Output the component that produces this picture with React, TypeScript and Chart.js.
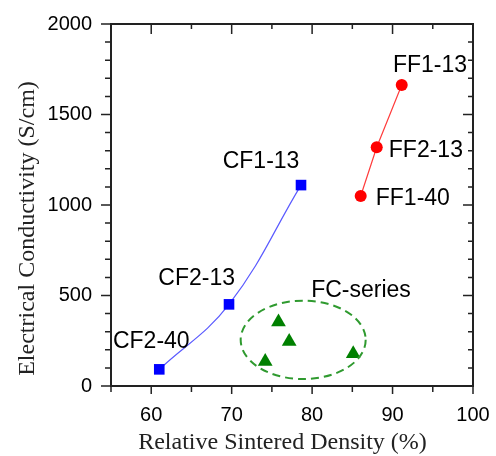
import React, { useEffect, useRef } from 'react';
import { Chart, registerables } from 'chart.js';

Chart.register(...registerables);

// ---- Data ----
const CF_X = [61.0, 69.67, 78.62];
const CF_Y = [92, 451, 1110];
const FF_X = [86.04, 88.03, 91.14];
const FF_Y = [1050, 1319, 1663];
const FC_X = [75.82, 77.15, 74.17, 85.11];
const FC_Y = [354, 246, 136, 178];

const X_TICKS = [60, 70, 80, 90, 100];
const X_MINOR = [55, 65, 75, 85, 95];
const Y_TICKS = [0, 500, 1000, 1500, 2000];
const Y_MINOR = [100, 200, 300, 400, 600, 700, 800, 900, 1100, 1200, 1300, 1400, 1600, 1700, 1800, 1900];

const LABEL_TEXT = ['CF1-13', 'CF2-13', 'CF2-40', 'FF1-13', 'FF2-13', 'FF1-40', 'FC-series'];
const LABEL_X = [73.65, 65.65, 60.01, 94.66, 94.14, 92.52, 86.08];
const LABEL_Y = [1249, 604, 254, 1783, 1313, 1046, 539];

const FC_ELLIPSE_CENTER = [78.89, 255];
const FC_ELLIPSE_RADII = [7.77, 216.6];

const X_TITLE = 'Relative Sintered Density (%)';
const Y_TITLE = 'Electrical Conductivity (S/cm)';

const SANS = '"Liberation Sans", Arial, sans-serif';
const SERIF = '"Liberation Serif", "Times New Roman", serif';

const decorPlugin = {
  id: 'decor',
  afterDatasetsDraw(chart: any) {
    const ctx = chart.ctx;
    const xs = chart.scales.x;
    const ys = chart.scales.y;
    const { left, right, top, bottom } = chart.chartArea;
    ctx.save();

    // FC-series dashed ellipse
    const cx = xs.getPixelForValue(FC_ELLIPSE_CENTER[0]);
    const cy = ys.getPixelForValue(FC_ELLIPSE_CENTER[1]);
    const rx = Math.abs(xs.getPixelForValue(FC_ELLIPSE_CENTER[0] + FC_ELLIPSE_RADII[0]) - cx);
    const ry = Math.abs(ys.getPixelForValue(FC_ELLIPSE_CENTER[1] + FC_ELLIPSE_RADII[1]) - cy);
    ctx.beginPath();
    ctx.setLineDash([8, 5]);
    ctx.lineWidth = 2;
    ctx.strokeStyle = '#2f9a2f';
    ctx.ellipse(cx, cy, rx, ry, 0, 0, Math.PI * 2);
    ctx.stroke();
    ctx.setLineDash([]);

    // Point labels
    ctx.fillStyle = '#000';
    ctx.font = `23px ${SANS}`;
    ctx.textAlign = 'center';
    ctx.textBaseline = 'alphabetic';
    LABEL_TEXT.forEach((t, i) => {
      const px = xs.getPixelForValue(LABEL_X[i]);
      const py = ys.getPixelForValue(LABEL_Y[i]);
      ctx.fillText(t, px, py + 0.36 * 23);
    });

    // Frame
    ctx.strokeStyle = '#222';
    ctx.lineWidth = 2;
    ctx.strokeRect(left, top, right - left, bottom - top);

    // Ticks
    ctx.lineWidth = 1.5;
    ctx.beginPath();
    X_TICKS.forEach((v) => {
      const p = xs.getPixelForValue(v);
      ctx.moveTo(p, bottom); ctx.lineTo(p, bottom + 8);
      ctx.moveTo(p, top); ctx.lineTo(p, top + 10);
    });
    X_MINOR.forEach((v) => {
      const p = xs.getPixelForValue(v);
      ctx.moveTo(p, bottom); ctx.lineTo(p, bottom + 6);
      ctx.moveTo(p, top); ctx.lineTo(p, top + 5);
    });
    Y_TICKS.forEach((v) => {
      const p = ys.getPixelForValue(v);
      ctx.moveTo(left - 10, p); ctx.lineTo(left, p);
      ctx.moveTo(right - 10, p); ctx.lineTo(right, p);
    });
    Y_MINOR.forEach((v) => {
      const p = ys.getPixelForValue(v);
      ctx.moveTo(left - 6, p); ctx.lineTo(left, p);
      ctx.moveTo(right - 5, p); ctx.lineTo(right, p);
    });
    ctx.stroke();

    // Axis titles
    ctx.fillStyle = '#222';
    ctx.font = `24px ${SERIF}`;
    ctx.textAlign = 'center';
    ctx.textBaseline = 'alphabetic';
    ctx.fillText(X_TITLE, 282.5, 449);
    ctx.save();
    ctx.translate(34, 228.5);
    ctx.rotate(-Math.PI / 2);
    ctx.fillText(Y_TITLE, 0, 0);
    ctx.restore();

    ctx.restore();
  },
};

export default function App() {
  const ref = useRef<HTMLCanvasElement | null>(null);
  useEffect(() => {
    if (!ref.current) return;
    const chart = new Chart(ref.current, {
      type: 'scatter',
      data: {
        datasets: [
          {
            label: 'CF',
            data: CF_X.map((x, i) => ({ x, y: CF_Y[i] })),
            showLine: true,
            borderColor: '#5a5aff',
            borderWidth: 1.2,
            tension: 0.4,
            pointStyle: 'rect',
            pointRadius: 7.5,
            pointBackgroundColor: '#0000ff',
            pointBorderWidth: 0,
          },
          {
            label: 'FF',
            data: FF_X.map((x, i) => ({ x, y: FF_Y[i] })),
            showLine: true,
            borderColor: '#ff3b3b',
            borderWidth: 1.2,
            pointStyle: 'circle',
            pointRadius: 6,
            pointBackgroundColor: '#ff0000',
            pointBorderWidth: 0,
          },
          {
            label: 'FC',
            data: FC_X.map((x, i) => ({ x, y: FC_Y[i] })),
            showLine: false,
            pointStyle: 'triangle',
            pointRadius: 8.5,
            pointBackgroundColor: '#008000',
            pointBorderWidth: 0,
          },
        ] as any,
      },
      options: {
        responsive: false,
        animation: false,
        layout: { padding: { left: 0, right: 23, top: 24, bottom: 0 } },
        plugins: { legend: { display: false }, tooltip: { enabled: false } },
        scales: {
          x: {
            type: 'linear',
            min: 55,
            max: 100,
            grid: { display: false, drawTicks: false },
            border: { display: false },
            afterBuildTicks: (s: any) => { s.ticks = X_TICKS.map((v) => ({ value: v })); },
            afterFit: (s: any) => { s.height = 70; s.paddingLeft = 0; s.paddingRight = 0; s.paddingTop = 0; s.paddingBottom = 0; },
            ticks: {
              autoSkip: false,
              maxRotation: 0,
              padding: 17,
              color: '#000',
              font: { family: SANS, size: 20 },
              callback: (v: any) => String(v),
            },
          },
          y: {
            type: 'linear',
            min: 0,
            max: 2000,
            grid: { display: false, drawTicks: false },
            border: { display: false },
            afterBuildTicks: (s: any) => { s.ticks = Y_TICKS.map((v) => ({ value: v })); },
            afterFit: (s: any) => { s.width = 111; s.paddingLeft = 0; s.paddingRight = 0; s.paddingTop = 0; s.paddingBottom = 0; },
            ticks: {
              autoSkip: false,
              padding: 19,
              color: '#000',
              font: { family: SANS, size: 20 },
              callback: (v: any) => String(v),
            },
          },
        },
      } as any,
      plugins: [decorPlugin],
    });
    return () => chart.destroy();
  }, []);
  return (
    <div style={{ position: 'absolute', left: 0, top: 0, width: 496, height: 456, background: '#fff' }}>
      <canvas ref={ref} width={496} height={456} style={{ display: 'block' }} />
    </div>
  );
}
